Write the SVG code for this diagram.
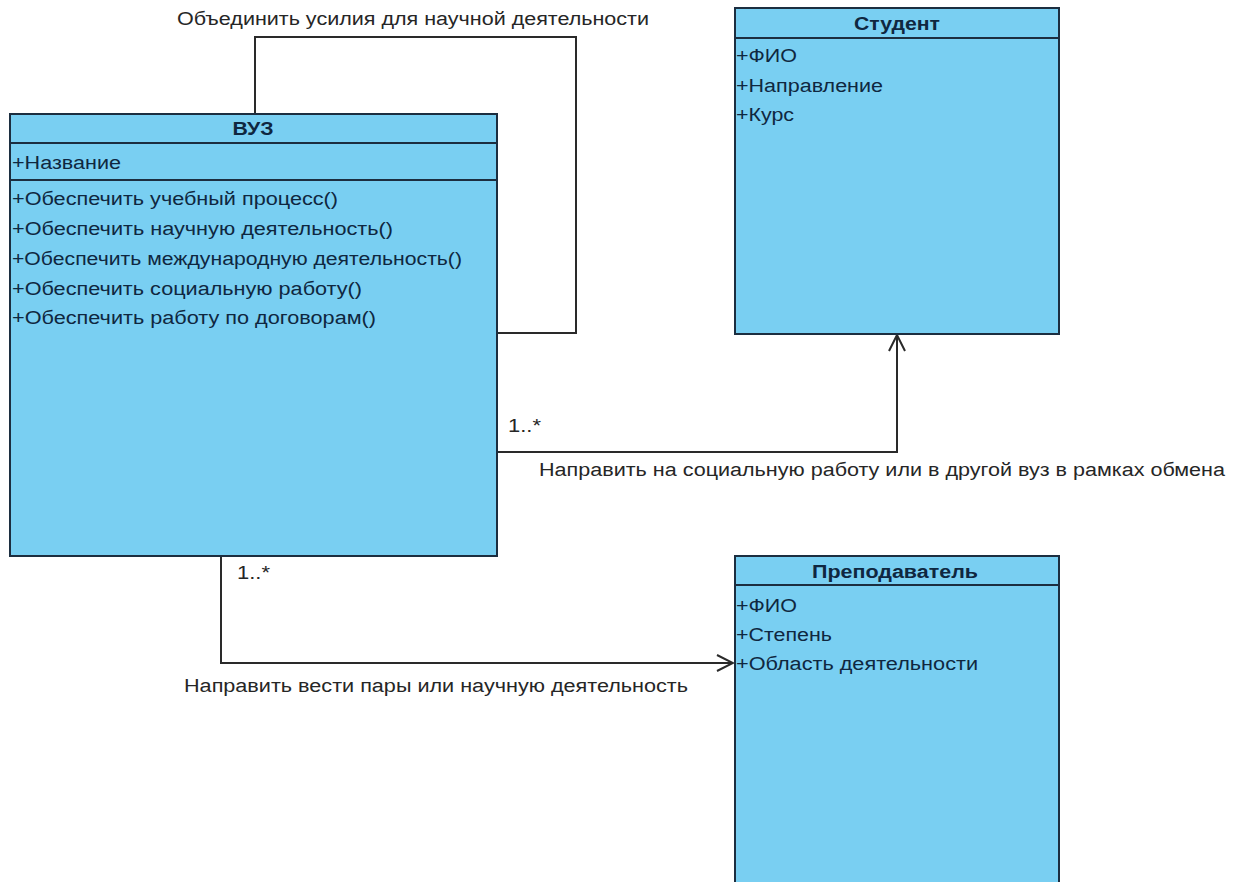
<svg xmlns="http://www.w3.org/2000/svg" width="1236" height="882" viewBox="0 0 1236 882">
<style>
.box{fill:#79cff2;stroke:#1c2e40;stroke-width:2}
.sep{stroke:#1c2e40;stroke-width:2}
text{font-family:"Liberation Sans",Arial,sans-serif;font-size:18px}
.t{fill:#0f2740}
.h{font-weight:bold;fill:#0f2740;text-anchor:middle}
.lbl{fill:#262626}
.conn{fill:none;stroke:#2a2a2a;stroke-width:2}
</style>
<defs>
<marker id="open" viewBox="0 0 20 20" refX="18" refY="10" markerWidth="20" markerHeight="20" markerUnits="userSpaceOnUse" orient="auto">
<path d="M2,2 L18,10 L2,18" fill="none" stroke="#2a2a2a" stroke-width="2"/>
</marker>
</defs>
<rect width="1236" height="882" fill="#fff"/>
<g id="connectors">
<path class="conn" d="M255,114 V37 H576 V333 H497"/>
<path class="conn" d="M497,452 H897 V335" marker-end="url(#open)"/>
<path class="conn" d="M221,556 V663 H733" marker-end="url(#open)"/>
<text class="lbl" x="177" y="25" textLength="472" lengthAdjust="spacingAndGlyphs">Объединить усилия для научной деятельности</text>
<text class="lbl" x="508" y="432" textLength="33" lengthAdjust="spacingAndGlyphs">1..*</text>
<text class="lbl" x="539" y="476" textLength="686" lengthAdjust="spacingAndGlyphs">Направить на социальную работу или в другой вуз в рамках обмена</text>
<text class="lbl" x="237" y="579" textLength="33" lengthAdjust="spacingAndGlyphs">1..*</text>
<text class="lbl" x="184" y="692" textLength="504" lengthAdjust="spacingAndGlyphs">Направить вести пары или научную деятельность</text>
</g>
<g id="vuz">
<rect class="box" x="10" y="114" width="487" height="442"/>
<line class="sep" x1="10" y1="143" x2="497" y2="143"/>
<line class="sep" x1="10" y1="180" x2="497" y2="180"/>
<text class="h" x="253" y="135" textLength="41" lengthAdjust="spacingAndGlyphs">ВУЗ</text>
<text class="t" x="12" y="169" textLength="109" lengthAdjust="spacingAndGlyphs">+Название</text>
<text class="t" x="12" y="205" textLength="326" lengthAdjust="spacingAndGlyphs">+Обеспечить учебный процесс()</text>
<text class="t" x="12" y="235" textLength="381" lengthAdjust="spacingAndGlyphs">+Обеспечить научную деятельность()</text>
<text class="t" x="12" y="265" textLength="450" lengthAdjust="spacingAndGlyphs">+Обеспечить международную деятельность()</text>
<text class="t" x="12" y="295" textLength="350" lengthAdjust="spacingAndGlyphs">+Обеспечить социальную работу()</text>
<text class="t" x="12" y="324" textLength="364" lengthAdjust="spacingAndGlyphs">+Обеспечить работу по договорам()</text>
</g>
<g id="student">
<rect class="box" x="735" y="8" width="324" height="326"/>
<line class="sep" x1="735" y1="38" x2="1059" y2="38"/>
<text class="h" x="897" y="30" textLength="86" lengthAdjust="spacingAndGlyphs">Студент</text>
<text class="t" x="736" y="62" textLength="61" lengthAdjust="spacingAndGlyphs">+ФИО</text>
<text class="t" x="736" y="92" textLength="147" lengthAdjust="spacingAndGlyphs">+Направление</text>
<text class="t" x="736" y="121" textLength="58" lengthAdjust="spacingAndGlyphs">+Курс</text>
</g>
<g id="teacher">
<rect class="box" x="735" y="556" width="324" height="340"/>
<line class="sep" x1="735" y1="585" x2="1059" y2="585"/>
<text class="h" x="895" y="578" textLength="166" lengthAdjust="spacingAndGlyphs">Преподаватель</text>
<text class="t" x="736" y="612" textLength="61" lengthAdjust="spacingAndGlyphs">+ФИО</text>
<text class="t" x="736" y="641" textLength="96" lengthAdjust="spacingAndGlyphs">+Степень</text>
<text class="t" x="736" y="670" textLength="242" lengthAdjust="spacingAndGlyphs">+Область деятельности</text>
</g>
</svg>
